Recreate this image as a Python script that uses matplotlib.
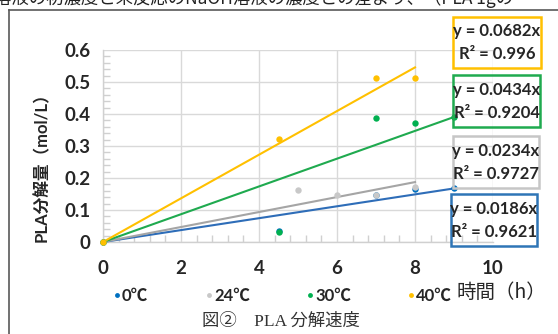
import matplotlib
matplotlib.use("Agg")
import matplotlib.pyplot as plt
from matplotlib.patches import Rectangle
from matplotlib.lines import Line2D
import numpy as np

plt.rcParams['font.family'] = ['Lato', 'Noto Sans CJK JP', 'DejaVu Sans']

# Data
series_names = ["0℃", "24℃", "30℃", "40℃"]
x0 = [0, 4.5, 7, 8, 9]
y0 = [0, 0.035, 0.147, 0.166, 0.168]
x24 = [0, 5, 6, 7, 8]
y24 = [0, 0.1625, 0.147, 0.147, 0.171]
x30 = [0, 4.5, 7, 8, 9]
y30 = [0, 0.030, 0.388, 0.371, 0.390]
x40 = [0, 4.5, 7, 8]
y40 = [0, 0.321, 0.511, 0.511]
slopes = [0.0186, 0.0234, 0.0434, 0.0682]
r2_labels = ["0.9621", "0.9727", "0.9204", "0.996"]
x_ticks = [0, 2, 4, 6, 8, 10]
y_ticks = [0, 0.1, 0.2, 0.3, 0.4, 0.5, 0.6]
y_tick_labels = ["0", "0.1", "0.2", "0.3", "0.4", "0.5", "0.6"]

marker_colors = ["#0070c0", "#c8c8c8", "#00b050", "#ffc000"]
line_colors = ["#2e6db8", "#a5a5a5", "#1faa4f", "#ffc000"]
box_colors = ["#2e75b6", "#c6c6c6", "#1faa4f", "#ffc000"]

W, H = 558, 334
fig = plt.figure(figsize=(W / 100, H / 100), dpi=100)

def fx(px):
    return px / W

def fy(py):
    return 1 - py / H

# outer frame (left and top borders)
fig.add_artist(Line2D([fx(9), fx(9)], [fy(10), fy(334)], color="#595959", lw=1.2, transform=fig.transFigure))
fig.add_artist(Line2D([fx(9), fx(558)], [fy(10), fy(10)], color="#595959", lw=1.2, transform=fig.transFigure))

# cut-off sentence at the top (as in the reference)
fig.text(fx(-6), fy(-2), "溶液の初濃度と未反応のNaOH溶液の濃度との差より、（PLA 1gの",
         fontsize=12.5, family=['Noto Sans CJK JP'], color="#222222", va="center", ha="left")

ax = fig.add_axes([fx(103), fy(242), fx(493) - fx(103), fy(50) - fy(242)])
xs_list = [x0, x24, x30, x40]
ys_list = [y0, y24, y30, y40]

for i in range(4):
    xs = np.array(xs_list[i], dtype=float)
    xl = np.array([0, xs.max()])
    ax.plot(xl, slopes[i] * xl, color=line_colors[i], lw=1.5, zorder=3, clip_on=False)
for i in range(4):
    ax.plot(xs_list[i], ys_list[i], 'o', color=marker_colors[i], ms=4.6, zorder=4, clip_on=False,
            markeredgewidth=0)

ax.set_xlim(0, 10)
ax.set_ylim(0, 0.6)
ax.set_xticks(x_ticks)
ax.set_xticklabels([str(v) for v in x_ticks])
ax.set_yticks(y_ticks)
ax.set_yticklabels(y_tick_labels)
ax.set_xticks(np.arange(0, 10.01, 0.4), minor=True)
ax.set_yticks(np.arange(0, 0.601, 0.02), minor=True)
ax.grid(True, which="major", color="#d9d9d9", lw=1.0)
ax.set_axisbelow(True)
for s in ["top", "right"]:
    ax.spines[s].set_visible(False)
for s in ["left", "bottom"]:
    ax.spines[s].set_color("#d0d0d0")
    ax.spines[s].set_linewidth(1.0)
ax.tick_params(which="major", length=0, labelsize=13.5, pad=9, labelcolor="#262626")
ax.tick_params(axis="x", which="major", pad=13)
ax.tick_params(which="minor", direction="in", length=5, color="#d0d0d0", width=1.0)
for lab in ax.get_xticklabels() + ax.get_yticklabels():
    lab.set_fontweight("bold")

fig.text(fx(42), fy(163), "PLA分解量（mol/L）", rotation=90, ha="center", va="center",
         fontsize=12, fontweight="bold", color="#262626")

# trendline labels
boxes = [(451, 194, 86, 52), (453, 136, 86, 52), (453, 75, 87, 52), (453, 17, 88, 51)]
for i in range(4):
    bx, by, bw, bh = boxes[i]
    fig.add_artist(Rectangle((fx(bx), fy(by + bh)), bw / W, bh / H, transform=fig.transFigure,
                             fill=False, edgecolor=box_colors[i], lw=1.8))
    fig.text(fx(bx + bw / 2), fy(by + bh * 0.28), f"y = {slopes[i]}x", ha="center", va="center",
             fontsize=12, fontweight="bold", color="#262626")
    fig.text(fx(bx + bw / 2), fy(by + bh * 0.73), f"R² = {r2_labels[i]}", ha="center", va="center",
             fontsize=12, fontweight="bold", color="#262626")

# legend
leg_x = [117, 209, 310, 411]
for i in range(4):
    fig.add_artist(Line2D([fx(leg_x[i])], [fy(295)], marker='o', ms=3.5, color=marker_colors[i],
                          markeredgewidth=0, transform=fig.transFigure))
    fig.text(fx(leg_x[i] + 5), fy(296), series_names[i], ha="left", va="center",
             fontsize=12, fontweight="bold", color="#262626")

fig.text(fx(457), fy(292), "時間（h）", ha="left", va="center", fontsize=14,
         family=['Noto Sans CJK JP'], fontweight="normal", color="#262626")

fig.text(fx(202), fy(322), "図②　PLA 分解速度", ha="left", va="center", fontsize=12.5,
         family=['Liberation Serif', 'Noto Sans CJK JP'], color="#333333")

fig.savefig("out.png", dpi=100)
